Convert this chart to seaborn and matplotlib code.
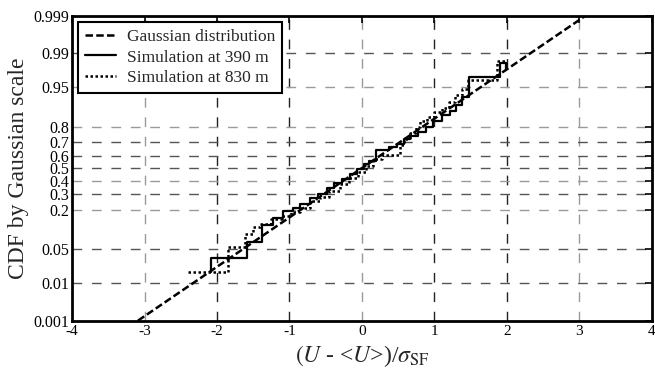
import statistics
import numpy as np
import pandas as pd
import matplotlib
matplotlib.use("Agg")
import matplotlib.pyplot as plt
from matplotlib.ticker import NullLocator
import seaborn as sns

# ---------------- data ----------------
gauss_x = [-3.09, 3.09]
gauss_p = [0.001, 0.999]

sim390_x = [-2.085, -2.085, -1.58, -1.38, -1.23, -1.09, -0.95, -0.86, -0.72, -0.60,
            -0.48, -0.38, -0.28, -0.17, -0.07, 0.03, 0.10, 0.20, 0.38, 0.48,
            0.58, 0.66, 0.78, 0.88, 0.98, 1.10, 1.22, 1.30, 1.38, 1.48, 1.90, 1.99]
sim390_p = [0.018, 0.034, 0.068, 0.125, 0.155, 0.19, 0.21, 0.235, 0.27, 0.30,
            0.34, 0.38, 0.41, 0.45, 0.49, 0.53, 0.56, 0.64, 0.665, 0.69,
            0.72, 0.74, 0.77, 0.80, 0.83, 0.86, 0.875, 0.90, 0.925, 0.968, 0.983, 0.977]

sim830_x = [-2.40, -1.85, -1.62, -1.50, -1.40, -1.25, -1.10, -0.98, -0.85, -0.72,
            -0.58, -0.45, -0.30, -0.18, -0.05, 0.05, 0.15, 0.28, 0.52, 0.58,
            0.66, 0.74, 0.80, 0.90, 1.00, 1.10, 1.20, 1.28, 1.38, 1.47, 1.87, 1.99]
sim830_p = [0.018, 0.054, 0.09, 0.115, 0.13, 0.15, 0.165, 0.185, 0.21, 0.25,
            0.28, 0.32, 0.37, 0.42, 0.47, 0.52, 0.57, 0.605, 0.68, 0.72,
            0.76, 0.80, 0.83, 0.85, 0.87, 0.89, 0.91, 0.93, 0.945, 0.962, 0.985, 0.977]

x_ticks = [-4, -3, -2, -1, 0, 1, 2, 3, 4]
y_ticks = [0.001, 0.01, 0.05, 0.2, 0.3, 0.4, 0.5, 0.6, 0.7, 0.8, 0.95, 0.99, 0.999]
y_tick_labels = ["0.001", "0.01", "0.05", "0.2", "0.3", "0.4", "0.5", "0.6",
                 "0.7", "0.8", "0.95", "0.99", "0.999"]

labels = ["Gaussian distribution", "Simulation at 390 m", "Simulation at 830 m"]

# ---------------- style ----------------
sns.set_style("white")
plt.rcParams["font.family"] = ["Liberation Serif", "DejaVu Serif"]
plt.rcParams["mathtext.fontset"] = "stix"

nd = statistics.NormalDist()
_ppf = np.vectorize(nd.inv_cdf, otypes=[float])
_cdf = np.vectorize(nd.cdf, otypes=[float])


def fwd(p):
    p = np.clip(np.asarray(p, dtype=float), 1e-12, 1 - 1e-12)
    return _ppf(p)


def inv(z):
    return _cdf(np.asarray(z, dtype=float))


fig = plt.figure(figsize=(6.55, 3.79), dpi=100)
ax = fig.add_axes([0.110, 0.154, 0.885, 0.805])
ax.set_yscale("function", functions=(fwd, inv))

# grid
dark_v = {-2, -1, 1, 2}
for xv in x_ticks[1:-1]:
    ax.axvline(xv, color="#222222" if xv in dark_v else "#9a9a9a",
               lw=1.0, ls=(0, (7, 7)), zorder=0)
dark_h = {0.99, 0.7, 0.6, 0.5, 0.3, 0.05, 0.01}
for yv in y_ticks[1:-1]:
    ax.axhline(yv, color="#555555" if yv in dark_h else "#9a9a9a",
               lw=1.0, ls=(0, (7, 7)), zorder=0)

df_g = pd.DataFrame({"x": gauss_x, "p": gauss_p})
df_a = pd.DataFrame({"x": sim390_x, "p": sim390_p})
df_b = pd.DataFrame({"x": sim830_x, "p": sim830_p})

sns.lineplot(data=df_g, x="x", y="p", ax=ax, color="black", lw=1.8,
             ls=(0, (3.0, 1.3)), estimator=None, sort=False, label=labels[0])
sns.lineplot(data=df_a, x="x", y="p", ax=ax, color="black", lw=1.6,
             drawstyle="steps-post", estimator=None, sort=False, label=labels[1])
sns.lineplot(data=df_b, x="x", y="p", ax=ax, color="black", lw=1.8,
             ls=(0, (1, 1)), drawstyle="steps-post", estimator=None, sort=False,
             label=labels[2])

ax.set_xlim(-4, 4)
ax.set_ylim(0.001, 0.999)
ax.set_xticks(x_ticks)
ax.set_xticklabels([str(v) for v in x_ticks])
ax.set_yticks(y_ticks)
ax.set_yticklabels(y_tick_labels)
ax.yaxis.set_minor_locator(NullLocator())
ax.xaxis.set_minor_locator(NullLocator())

ax.tick_params(axis="both", which="major", direction="in", length=5, width=1.2,
               top=True, right=True, colors="black", pad=3)
ax.tick_params(axis="x", labelsize=11)
ax.tick_params(axis="y", labelsize=11.5, pad=2)

for s in ax.spines.values():
    s.set_visible(True)
    s.set_color("black")
    s.set_linewidth(2.0)

ax.set_ylabel("CDF by Gaussian scale", fontsize=17, labelpad=3)
ax.set_xlabel(r"$(U$ - <$U$>)/$\sigma_{\mathrm{SF}}$", fontsize=17, labelpad=4)

leg = ax.legend(loc="upper left", bbox_to_anchor=(0.0103, 0.979), borderaxespad=0,
                frameon=True, fancybox=False, framealpha=1, edgecolor="black",
                fontsize=12.5, handlelength=1.8, handletextpad=0.6,
                labelspacing=0.25, borderpad=0.4)
leg.get_frame().set_linewidth(1.5)

fig.savefig("out.png", dpi=100)
